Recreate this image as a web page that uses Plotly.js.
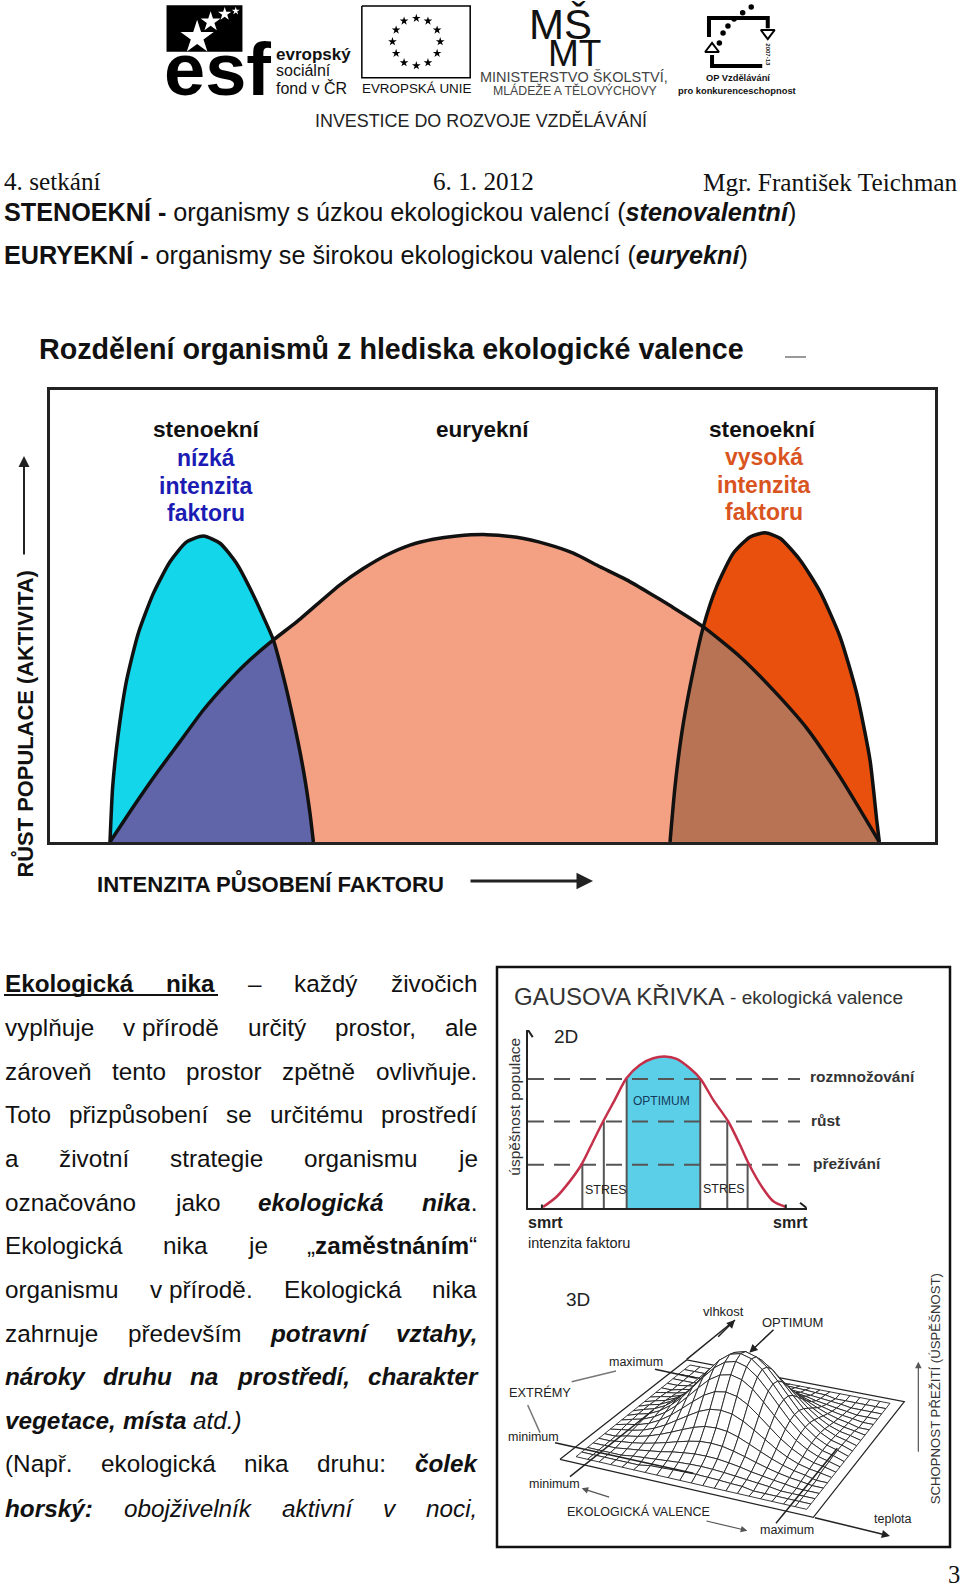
<!DOCTYPE html>
<html>
<head>
<meta charset="utf-8">
<script src="https://cdn.plot.ly/plotly-3.0.1.min.js"></script>
<style>html,body{margin:0;padding:0;background:#fff}#page{width:960px;height:1588px}</style>
</head>
<body>
<div id="page"></div>
<script>
// ---- main chart: three tolerance curves (x, y in % of the frame)
var leftX = [6.78, 7.08, 7.72, 8.66, 9.98, 11.68, 13.56, 15.44, 17.33, 19.21, 21.09, 22.98, 24.11, 25.24, 26.37, 27.5, 28.63, 29.38, 29.76];
var leftY = [0, 12.2, 24, 35.8, 46.2, 55, 62, 66.4, 67.7, 66.1, 61.6, 54.6, 49.8, 44.7, 36.6, 27, 15.9, 6.3, 0];
var midX = [6.78, 9.42, 12.05, 14.69, 17.33, 19.96, 22.6, 25.24, 27.87, 32.77, 35.4, 38.04, 40.68, 43.31, 45.95, 49.34, 52.73, 56.12, 59.13, 62.15, 65.16, 67.8, 70.06, 73.82, 77.97, 81.73, 85.5, 89.27, 93.71];
var midY = [0, 7.8, 15.2, 22.2, 29.2, 35.1, 40.3, 44.7, 48.7, 56.9, 60.5, 63.5, 65.7, 67, 67.7, 68, 67.4, 65.9, 63.9, 60.9, 58, 55, 52.3, 47.6, 41, 33.6, 25.2, 14.4, 0];
var rightX = [70.06, 70.62, 71.38, 72.32, 73.82, 75.33, 77.21, 79.1, 80.79, 82.49, 84.75, 87.01, 89.27, 91.15, 92.66, 93.41, 93.71];
var rightY = [0, 12.2, 24, 34.4, 47.6, 56.5, 63.9, 67.5, 68.4, 67.2, 62.4, 55.4, 45.4, 32.9, 18.1, 4.9, 0];

// ---- 2D gauss curve
var gaussX = [5.39, 10.18, 14.97, 19.16, 23.35, 26.95, 31.14, 35.33, 40.12, 44.91, 49.1, 53.29, 58.08, 61.92, 66.47, 71.86, 76.05, 79.4, 83.83, 88.02, 92.57];
var gaussY = [0.56, 6.17, 14.95, 24.3, 37.38, 48.6, 60.75, 72.9, 80.37, 84.11, 85.05, 83.74, 78.5, 72.52, 60.75, 48.6, 35.51, 24.3, 12.15, 3.74, 0.56];
var levels = [72.5, 48.6, 24.3];
var stemX = [19.5, 27.2, 35.4, 61.8, 71.5, 78.8];
var stemY = [24.3, 48.6, 72.5, 72.5, 48.6, 24.3];

// ---- 3D surface, heights
var surfaceZ = [
  [0,0,0,0,0,0,0,0,0,0,0,0,0,0,0,0,0,0,0,0,0],
  [0,0,0,0,0,0,6,7,9,10,11,10,9,7,6,0,0,0,0,0,0],
  [0,0,0,0,5,8,11,14,17,19,20,19,17,14,11,8,5,0,0,0,0],
  [0,0,0,5,9,14,19,26,31,35,36,35,31,26,19,14,9,5,0,0,0],
  [0,0,5,9,15,23,32,42,51,58,60,58,51,42,32,23,15,9,5,0,0],
  [0,0,8,14,23,35,49,64,78,88,91,88,78,64,49,35,23,14,8,0,0],
  [0,6,11,19,32,49,70,91,111,125,129,125,111,91,70,49,32,19,11,6,0],
  [0,8,14,25,42,64,91,119,145,163,169,163,145,119,91,64,42,25,14,8,0],
  [0,9,17,31,51,78,111,145,177,198,206,198,177,145,111,78,51,31,17,9,0],
  [0,11,19,35,58,88,125,163,198,222,231,222,198,163,125,88,58,35,19,11,0],
  [0,11,20,36,60,91,129,169,206,231,240,231,206,169,129,91,60,36,20,11,0],
  [0,11,19,35,58,88,125,163,198,222,231,222,198,163,125,88,58,35,19,11,0],
  [0,9,17,31,51,78,111,145,177,198,206,198,177,145,111,78,51,31,17,9,0],
  [0,8,14,25,42,64,91,119,145,163,169,163,145,119,91,64,42,25,14,8,0],
  [0,6,11,19,32,49,70,91,111,125,129,125,111,91,70,49,32,19,11,6,0],
  [0,0,8,14,23,35,49,64,78,88,91,88,78,64,49,35,23,14,8,0,0],
  [0,0,5,9,15,23,32,42,51,58,60,58,51,42,32,23,15,9,5,0,0],
  [0,0,0,5,9,14,19,26,31,35,36,35,31,26,19,14,9,5,0,0,0],
  [0,0,0,0,5,8,11,14,17,19,20,19,17,14,11,8,5,0,0,0,0],
  [0,0,0,0,0,0,6,7,9,10,11,10,9,7,6,0,0,0,0,0,0],
  [0,0,0,0,0,0,0,0,0,0,0,0,0,0,0,0,0,0,0,0,0]
];
var plateX = [210, 590, 1243, 970, 210];
var plateY = [598, 300, 425, 772, 598];
// grid corners: left, front, right, back
var gridCornerX = [258, 950, 1200, 600];
var gridCornerY = [590, 748, 430, 315];

// ---- header logos
var esfBoxX = [272, 396, 396, 272, 272];
var esfBoxY = [16, 16, 155, 155, 16];
var esfStarX = [322, 344, 367, 385];
var esfStarY = [112, 65, 42, 33];
var esfStarSize = [25, 15, 10, 6];
var euBoxX = [591, 768, 768, 591, 591];
var euBoxY = [18, 18, 233, 233, 18];
var euStarX = [680, 699, 714, 719, 714, 699, 680, 660, 647, 641, 647, 660];
var euStarY = [55, 63, 90, 125, 160, 188, 197, 188, 160, 125, 90, 63];
var opFrameTopX = [1158, 1158, 1254, 1254];
var opFrameTopY = [111, 54, 54, 85];
var opFrameLowX = [1163, 1163, 1245];
var opFrameLowY = [165, 198, 198];
var opDotX = [1227, 1213, 1199, 1189, 1181, 1175];
var opDotY = [21, 38, 57, 78, 99, 129];

// ---- body text, one entry per line; words get justified
var bodyLines = [
  "<b>Ekologická</b> <b>nika</b> – každý živočich",
  "vyplňuje v\u00a0přírodě určitý prostor, ale",
  "zároveň tento prostor zpětně ovlivňuje.",
  "Toto přizpůsobení se určitému prostředí",
  "a životní strategie organismu je",
  "označováno jako <b><i>ekologická</i></b> <b><i>nika</i></b>.",
  "Ekologická nika je „<b>zaměstnáním</b>“",
  "organismu v\u00a0přírodě. Ekologická nika",
  "zahrnuje především <b><i>potravní</i></b> <b><i>vztahy,</i></b>",
  "<b><i>nároky</i></b> <b><i>druhu</i></b> <b><i>na</i></b> <b><i>prostředí,</i></b> <b><i>charakter</i></b>",
  "<b><i>vegetace,</i></b> <b><i>místa</i></b> <i>atd.)</i>",
  "(Např. ekologická nika druhu: <b><i>čolek</i></b>",
  "<b><i>horský:</i></b> <i>obojživelník</i> <i>aktivní</i> <i>v</i> <i>noci,</i>"
];
var bodyBaselines = [992, 1036, 1080, 1123, 1167, 1211, 1254, 1298, 1342, 1385, 1429, 1472, 1517];

var SANS = "Liberation Sans, Arial, sans-serif";
var SERIF = "Liberation Serif, Times New Roman, serif";
var traces = [];
var annotations = [];

function addLine(xs, ys, axes, color, width, extra) {
  traces.push(Object.assign({
    x: xs, y: ys, xaxis: axes[0], yaxis: axes[1], type: "scatter", mode: "lines",
    line: {color: color, width: width}, hoverinfo: "skip", showlegend: false, cliponaxis: false
  }, extra || {}));
}
function addFill(xs, ys, axes, color) {
  addLine(xs, ys, axes, color, 0, {fill: "toself", fillcolor: color, line: {width: 0, color: color}});
}
function addMarkers(xs, ys, axes, symbol, size, color) {
  traces.push({x: xs, y: ys, xaxis: axes[0], yaxis: axes[1], type: "scatter", mode: "markers",
    marker: {symbol: symbol, size: size, color: color, opacity: 1, line: {color: color, width: symbol.indexOf("open") > 0 ? 2 : 0}},
    hoverinfo: "skip", showlegend: false, cliponaxis: false});
}

// text placed on page pixels, y is the baseline
function label(text, x, base, size, opts) {
  opts = opts || {};
  annotations.push({
    text: text, xref: "paper", yref: "paper", x: x / 960, y: 1 - base / 1588,
    xanchor: opts.anchor || "left", yanchor: "middle", yshift: size * 0.33, showarrow: false, borderpad: 0,
    align: "left",
    font: {family: opts.family || SANS, size: size, color: opts.color || "#111"}
  });
}
function vlabel(text, x, y, size, opts) {
  opts = opts || {};
  annotations.push({
    text: text, xref: "paper", yref: "paper", x: x / 960, y: 1 - y / 1588,
    xanchor: "center", yanchor: "middle", showarrow: false, borderpad: 0, textangle: opts.angle || -90,
    font: {family: SANS, size: size, color: opts.color || "#111"}
  });
}
function arrow(x0, y0, x1, y1, width, color) {
  annotations.push({
    text: "", xref: "paper", yref: "paper", x: x1 / 960, y: 1 - y1 / 1588, ax: x0 - x1, ay: y0 - y1,
    axref: "pixel", ayref: "pixel", showarrow: true, arrowhead: 2, arrowsize: 1.1, arrowwidth: width, arrowcolor: color || "#222"
  });
}
function domainX(a, b) { return [a / 960, b / 960]; }
function domainY(top, bottom) { return [1 - bottom / 1588, 1 - top / 1588]; }

// ---- main chart
var MAIN = ["x", "y"];
addFill(leftX, leftY, MAIN, "#13d6ea");
addFill(rightX, rightY, MAIN, "#e9500e");
addFill(midX, midY, MAIN, "#f4a082");
addFill(midX.slice(0, 8).concat(leftX.slice(14)), midY.slice(0, 8).concat(leftY.slice(14)), MAIN, "#6064a8");
addFill(rightX.slice(0, 5).concat(midX.slice(24)), rightY.slice(0, 5).concat(midY.slice(24)), MAIN, "#b87354");
[[leftX, leftY], [midX, midY], [rightX, rightY]].forEach(function (c) {
  addLine(c[0], c[1], MAIN, "#111", 3.5, {line: {color: "#111", width: 3.5, shape: "spline", smoothing: 0.6}});
});

label("<b>Rozdělení organismů z hlediska ekologické valence</b>", 37.5, 358.5, 28.7, {color: "#111"});
addLine([785, 806], [357, 357], ["x5", "y5"], "#777", 1.5);
label("<b>stenoekní</b>", 206.6, 436.5, 22.7, {anchor: "center"});
label("<b>euryekní</b>", 482, 436.5, 22.5, {anchor: "center"});
label("<b>stenoekní</b>", 762.6, 436.5, 22.7, {anchor: "center"});
["nízká", "intenzita", "faktoru"].forEach(function (w, i) {
  label("<b>" + w + "</b>", 205.6, [466, 494, 520.5][i], 23, {anchor: "center", color: "#1c1cb4"});
});
["vysoká", "intenzita", "faktoru"].forEach(function (w, i) {
  label("<b>" + w + "</b>", 763.6, [465, 493, 519.5][i], 23, {anchor: "center", color: "#d9541e"});
});
vlabel("<b>RŮST POPULACE (AKTIVITA)</b>", 23.5, 724, 21.9);
arrow(24, 556, 24, 456, 2);
label("<b>INTENZITA PŮSOBENÍ FAKTORU</b>", 96, 890, 22.1);
arrow(469, 881, 593, 881, 3);

// ---- header
var HEAD = ["x2", "y2"];
addFill(esfBoxX, esfBoxY, HEAD, "#000");
addMarkers(esfStarX, esfStarY, HEAD, "star", esfStarSize, "#fff");
label("<b>esf</b>", 163, 94, 74, {color: "#000"});
label("<b>evropský</b>", 275, 60.5, 17);
label("sociální", 275, 76, 16);
label("fond v ČR", 275, 93, 16);
addLine(euBoxX, euBoxY, HEAD, "#000", 1.5);
addMarkers(euStarX, euStarY, HEAD, "star", 6.5, "#000");
label("EVROPSKÁ UNIE", 416, 93, 13.4, {anchor: "center"});
// one text with a tight line step, the two rows of the logo touch
label("<span style=\"font-size:42px\">MŠ</span><br><span style=\"font-size:34px\">\u00a0\u00a0</span><span style=\"font-size:37px\">MT</span>", 528, 44, 20.5);
label("MINISTERSTVO ŠKOLSTVÍ,", 574, 81.5, 14.5, {anchor: "center", color: "#444"});
label("MLÁDEŽE A TĚLOVÝCHOVY", 575, 94.5, 12.3, {anchor: "center", color: "#444"});
addLine(opFrameTopX, opFrameTopY, HEAD, "#000", 4);
addLine(opFrameLowX, opFrameLowY, HEAD, "#000", 4);
addMarkers(opDotX, opDotY, HEAD, "circle", 5.5, "#000");
addMarkers([1254], [99], HEAD, "triangle-down-open", 12, "#000");
addMarkers([1163], [147], HEAD, "triangle-up-open", 12, "#000");
vlabel("<b>2007-13</b>", 767.7, 55, 6, {angle: 90});
label("<b>OP Vzdělávání</b>", 737.6, 81, 9.3, {anchor: "center"});
label("<b>pro konkurenceschopnost</b>", 737, 94, 9.4, {anchor: "center"});
label("INVESTICE DO ROZVOJE VZDĚLÁVÁNÍ", 314, 126.6, 17.9, {color: "#222"});
label("4. setkání", 3, 190, 25.2, {family: SERIF});
label("6. 1. 2012", 431.6, 190, 25.2, {family: SERIF});
label("Mgr. František Teichman", 702, 190, 25.3, {family: SERIF});
label("<b>STENOEKNÍ -</b> organismy s úzkou ekologickou valencí (<b><i>stenovalentní</i></b>)", 3, 220, 25.2);
label("<b>EURYEKNÍ -</b> organismy se širokou ekologickou valencí (<b><i>euryekní</i></b>)", 3, 263, 25.2);

// ---- body text, justified by measuring the words
var BODY_SIZE = 24.3, BODY_LEFT = 4, BODY_RIGHT = 476;
var ctx = document.createElement("canvas").getContext("2d");
function wordWidth(w) {
  var total = 0, bold = false, ital = false;
  w.split(/(<[^>]+>)/).forEach(function (tok) {
    if (tok === "<b>") bold = true;
    else if (tok === "</b>") bold = false;
    else if (tok === "<i>") ital = true;
    else if (tok === "</i>") ital = false;
    else if (tok) {
      ctx.font = (ital ? "italic " : "") + (bold ? "bold " : "") + BODY_SIZE + "px 'Liberation Sans'";
      total += ctx.measureText(tok).width;
    }
  });
  return total;
}
bodyLines.forEach(function (line, i) {
  var words = line.split(" ");
  var widths = words.map(wordWidth);
  var total = widths.reduce(function (a, b) { return a + b; }, 0);
  var gap = i === 10 ? BODY_SIZE * 0.28 : (BODY_RIGHT - BODY_LEFT - total) / (words.length - 1);
  var x = BODY_LEFT;
  words.forEach(function (w, j) {
    label(w, x, bodyBaselines[i], BODY_SIZE);
    x += widths[j] + gap;
  });
});
addLine([4, 218], [995, 995], ["x5", "y5"], "#111", 2);

// ---- right box, 2D part
var G = ["x3", "y3"];
var optIdx = [7, 13];
var optX = gaussX.slice(optIdx[0], optIdx[1] + 1);
var optY = gaussY.slice(optIdx[0], optIdx[1] + 1);
addFill([optX[0]].concat(optX, [optX[optX.length - 1]]), [0].concat(optY, [0]), G, "#5ccfe8");
levels.forEach(function (l) {
  addLine([0, 97.6], [l, l], G, "#555", 2, {line: {color: "#555", width: 2, dash: "16px 10px"}});
});
stemX.forEach(function (x, i) { addLine([x, x], [0, stemY[i]], G, "#555", 2); });
addLine(gaussX, gaussY, G, "#c4304a", 2.5, {line: {color: "#c4304a", width: 2.5, shape: "spline", smoothing: 0.8}});
addLine([97.6, 100, 97.6], [-3, 0, 3], G, "#222", 2);
addLine([-1.7, 0, 1.7], [96, 100, 96], G, "#222", 2);
addLine([5, 5], [-2, 2], G, "#222", 2);
addLine([92.5, 92.5], [-2, 2], G, "#222", 2);

label("GAUSOVA KŘIVKA", 512.7, 1004.3, 24, {color: "#333"});
label("- ekologická valence", 729, 1004.3, 19.1, {color: "#333"});
label("2D", 553, 1042.7, 19, {color: "#222"});
vlabel("úspěšnost populace", 515, 1106.7, 15.5, {color: "#333"});
label("<b>rozmnožování</b>", 809, 1082, 15.5, {color: "#333"});
label("<b>růst</b>", 810, 1126, 15.5, {color: "#333"});
label("<b>přežívání</b>", 811.7, 1169, 15.5, {color: "#333"});
label("OPTIMUM", 661.7, 1105, 12, {anchor: "center", color: "#143a5a"});
label("STRES", 606, 1194, 12.5, {anchor: "center", color: "#222"});
label("STRES", 724, 1193, 12.5, {anchor: "center", color: "#222"});
label("<b>smrt</b>", 527, 1227.7, 16, {color: "#222"});
label("<b>smrt</b>", 772, 1227.7, 16, {color: "#222"});
label("intenzita faktoru", 526.7, 1248, 14.5, {color: "#222"});

// ---- right box, 3D part
var S = ["x4", "y4"];
addFill(plateX, plateY, S, "#fff");
addLine(plateX, plateY, S, "#222", 1.2);
addLine([590, 735], [298, 180], S, "#222", 1.5);

function gridPoint(i, j) {
  var n = surfaceZ.length - 1, u = j / n, v = i / n;
  function mix(c) {
    return (1 - u) * (1 - v) * c[0] + u * (1 - v) * c[1] + u * v * c[2] + (1 - u) * v * c[3];
  }
  return [mix(gridCornerX), mix(gridCornerY) - surfaceZ[i][j]];
}
// far cells first so the hump hides what is behind it
var cells = [];
for (var i = surfaceZ.length - 2; i >= 0; i--) {
  for (var j = 0; j < surfaceZ.length - 1; j++) cells.push([i, j]);
}
cells.forEach(function (c) {
  var a = gridPoint(c[0], c[1]), b = gridPoint(c[0], c[1] + 1), d = gridPoint(c[0] + 1, c[1] + 1), e = gridPoint(c[0] + 1, c[1]);
  addLine([a[0], b[0], d[0], e[0], a[0]], [a[1], b[1], d[1], e[1], a[1]], S, "#222", 0.9, {fill: "toself", fillcolor: "#fff"});
});
addLine([195, 610], [548, 640], S, "#222", 1.5);
addLine([240, 490], [650, 450], S, "#222", 1.5);
addLine([495, 620], [328, 355], S, "#222", 1.5);
addLine([858, 1042], [790, 565], S, "#222", 1.5);
addLine([245, 378], [365, 333], S, "#777", 1.5);
addLine([113, 150], [435, 518], S, "#777", 1.5);

function px3(z) { return 490 + z / 3; }
function py3(z) { return 1260 + z / 3; }
arrow(px3(680), py3(235), px3(735), py3(180), 1.5);
arrow(px3(970), py3(772), px3(1200), py3(828), 1.5);
arrow(px3(855), py3(205), px3(778), py3(278), 1.5);
arrow(px3(362), py3(713), px3(275), py3(685), 1.2, "#555");
arrow(px3(645), py3(782), px3(772), py3(812), 1.2, "#555");
arrow(px3(1285), py3(580), px3(1285), py3(305), 1.2, "#555");

label("3D", px3(225), py3(138), 19, {color: "#222"});
label("vlhkost", px3(637), py3(168), 13, {color: "#222"});
label("OPTIMUM", px3(813), py3(200), 13, {color: "#222"});
label("maximum", px3(355), py3(318), 12.5, {color: "#222"});
label("EXTRÉMY", px3(55), py3(410), 12.8, {color: "#222"});
label("minimum", px3(52), py3(543), 12.5, {color: "#222"});
label("minimum", px3(113), py3(683), 12.5, {color: "#222"});
label("EKOLOGICKÁ VALENCE", px3(228), py3(768), 12.5, {color: "#222"});
label("maximum", px3(808), py3(823), 12.5, {color: "#222"});
label("teplota", px3(1150), py3(788), 12.5, {color: "#222"});
vlabel("SCHOPNOST PŘEŽITÍ (ÚSPĚŠNOST)", px3(1335), py3(388), 13.2, {color: "#333"});
label("3", 947, 1583, 24.5, {family: SERIF});

var hidden = {visible: false, fixedrange: true};
var layout = {
  width: 960, height: 1588,
  margin: {l: 0, r: 0, t: 0, b: 0},
  paper_bgcolor: "#fff", plot_bgcolor: "rgba(0,0,0,0)",
  showlegend: false,
  annotations: annotations,
  shapes: [{type: "rect", xref: "paper", yref: "paper", x0: 497 / 960, x1: 950 / 960, y0: 1 - 1547 / 1588, y1: 1 - 967 / 1588, line: {color: "#111", width: 2.5}}],
  xaxis: {domain: domainX(50, 935), range: [0, 100], showline: true, mirror: true, linewidth: 3, linecolor: "#222", showgrid: false, zeroline: false, showticklabels: false, ticks: "", anchor: "y"},
  yaxis: {domain: domainY(390, 842), range: [0, 100], showline: true, mirror: true, linewidth: 3, linecolor: "#222", showgrid: false, zeroline: false, showticklabels: false, ticks: "", anchor: "x"},
  xaxis2: Object.assign({domain: [0, 1], range: [0, 1568], anchor: "y2"}, hidden),
  yaxis2: Object.assign({domain: domainY(0, 300), range: [900, 0], anchor: "x2"}, hidden),
  xaxis3: {domain: domainX(528, 806.7), range: [0, 100], showline: true, linewidth: 2, linecolor: "#222", showgrid: false, zeroline: false, showticklabels: false, ticks: "", anchor: "y3"},
  yaxis3: {domain: domainY(1030, 1208), range: [0, 100], showline: true, linewidth: 2, linecolor: "#222", showgrid: false, zeroline: false, showticklabels: false, ticks: "", anchor: "x3"},
  xaxis4: Object.assign({domain: domainX(490, 960), range: [0, 1410], anchor: "y4"}, hidden),
  yaxis4: Object.assign({domain: domainY(1260, 1560), range: [900, 0], anchor: "x4"}, hidden),
  xaxis5: Object.assign({domain: [0, 1], range: [0, 960], anchor: "y5"}, hidden),
  yaxis5: Object.assign({domain: [0, 1], range: [1588, 0], anchor: "x5"}, hidden)
};

Plotly.newPlot("page", traces, layout, {staticPlot: true, displayModeBar: false});
</script>
</body>
</html>
